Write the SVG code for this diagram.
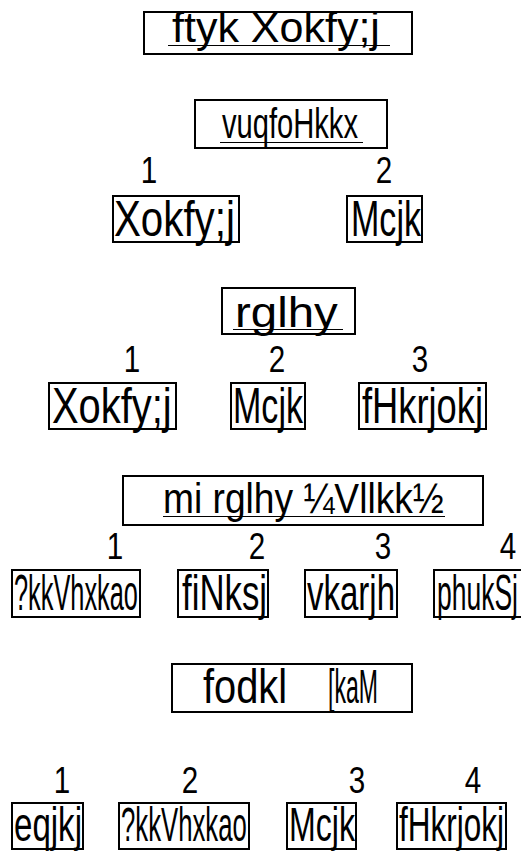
<svg xmlns="http://www.w3.org/2000/svg" width="521" height="852" viewBox="0 0 521 852">
  <style>
    text { font-family: "Liberation Sans", "DejaVu Sans", sans-serif; fill: #000; }
    .box { fill: #fff; stroke: #000; stroke-width: 2; }
    .ul { stroke: #000; stroke-width: 1.2; }
    .lbl { font-size: 50px; }
    .lbl-sm { font-size: 48px; }
    .num { font-size: 37px; text-anchor: middle; }
  </style>
  <rect width="521" height="852" fill="#fff"/>

  <!-- district heading -->
  <g id="district">
    <rect class="box" x="144" y="12" width="268" height="42"/>
    <text transform="translate(172 42) scale(1.024 1)" font-size="42">ftyk Xokfy;j</text>
    <line class="ul" x1="168" y1="45.5" x2="390" y2="45.5"/>
  </g>

  <!-- subdivision section -->
  <g id="subdivision">
    <rect class="box" x="195" y="100" width="192" height="48"/>
    <text transform="translate(222 138) scale(0.694 1)" font-size="42">vuqfoHkkx</text>
    <line class="ul" x1="220" y1="142.5" x2="363" y2="142.5"/>
  </g>
  <g id="subdivision-items">
    <text class="num" transform="translate(149 183) scale(0.8 1)">1</text>
    <text class="num" transform="translate(384 183) scale(0.8 1)">2</text>
    <g id="sd-1">
      <rect class="box" x="113" y="196" width="126" height="46"/>
      <text class="lbl" transform="translate(114 236) scale(0.806 1)">Xokfy;j</text>
    </g>
    <g id="sd-2">
      <rect class="box" x="347" y="196" width="75" height="46"/>
      <text class="lbl" transform="translate(351 236) scale(0.681 1)">Mcjk</text>
    </g>
  </g>

  <!-- tehsil section -->
  <g id="tehsil">
    <rect class="box" x="222" y="288" width="133" height="46"/>
    <text transform="translate(235 327) scale(1.13 1)" font-size="42">rglhy</text>
    <line class="ul" x1="233" y1="329.5" x2="343" y2="329.5"/>
  </g>
  <g id="tehsil-items">
    <text class="num" transform="translate(132 372) scale(0.8 1)">1</text>
    <text class="num" transform="translate(277 372) scale(0.8 1)">2</text>
    <text class="num" transform="translate(420 372) scale(0.8 1)">3</text>
    <g id="th-1">
      <rect class="box" x="49" y="383" width="127" height="46"/>
      <text class="lbl" transform="translate(52 423) scale(0.798 1)">Xokfy;j</text>
    </g>
    <g id="th-2">
      <rect class="box" x="231" y="383" width="74" height="46"/>
      <text class="lbl" transform="translate(233 423) scale(0.681 1)">Mcjk</text>
    </g>
    <g id="th-3">
      <rect class="box" x="359" y="383" width="127" height="46"/>
      <text class="lbl" transform="translate(362 423) scale(0.726 1)">fHkrjokj</text>
    </g>
  </g>

  <!-- sub-tehsil section -->
  <g id="subtehsil">
    <rect class="box" x="123" y="476" width="360" height="49"/>
    <text transform="translate(163 513) scale(0.885 1)" font-size="42">mi rglhy ¼Vllkk½</text>
    <line class="ul" x1="163" y1="516.5" x2="445" y2="516.5"/>
  </g>
  <g id="subtehsil-items">
    <text class="num" transform="translate(115 559) scale(0.8 1)">1</text>
    <text class="num" transform="translate(257 559) scale(0.8 1)">2</text>
    <text class="num" transform="translate(383 559) scale(0.8 1)">3</text>
    <text class="num" transform="translate(508 559) scale(0.8 1)">4</text>
    <g id="st-1">
      <rect class="box" x="12" y="570" width="128" height="47"/>
      <text class="lbl" transform="translate(14 610) scale(0.507 1)">?kkVhxkao</text>
    </g>
    <g id="st-2">
      <rect class="box" x="178" y="570" width="90" height="47"/>
      <text class="lbl" transform="translate(182 610) scale(0.696 1)">fiNksj</text>
    </g>
    <g id="st-3">
      <rect class="box" x="305" y="570" width="92" height="47"/>
      <text class="lbl" transform="translate(307 610) scale(0.66 1)">vkarjh</text>
    </g>
    <g id="st-4">
      <rect class="box" x="434" y="570" width="90" height="47"/>
      <text class="lbl" transform="translate(437 610) scale(0.53 1)">phukSj</text>
    </g>
  </g>

  <!-- development block section -->
  <g id="block">
    <rect class="box" x="172" y="664" width="240" height="48"/>
    <text transform="translate(203 703) scale(0.83 1)" font-size="48">fodkl</text>
    <text transform="translate(328 703) scale(0.48 1)" font-size="48">[kaM</text>
  </g>
  <g id="block-items">
    <text class="num" transform="translate(62 793) scale(0.8 1)">1</text>
    <text class="num" transform="translate(190 793) scale(0.8 1)">2</text>
    <text class="num" transform="translate(357 793) scale(0.8 1)">3</text>
    <text class="num" transform="translate(473 793) scale(0.8 1)">4</text>
    <g id="bk-1">
      <rect class="box" x="12" y="803" width="71" height="46"/>
      <text class="lbl-sm" transform="translate(14 841) scale(0.689 1)">eqjkj</text>
    </g>
    <g id="bk-2">
      <rect class="box" x="119" y="803" width="130" height="46"/>
      <text class="lbl-sm" transform="translate(121 841) scale(0.536 1)">?kkVhxkao</text>
    </g>
    <g id="bk-3">
      <rect class="box" x="287" y="803" width="69" height="46"/>
      <text class="lbl-sm" transform="translate(289 841) scale(0.669 1)">Mcjk</text>
    </g>
    <g id="bk-4">
      <rect class="box" x="397" y="803" width="109" height="46"/>
      <text class="lbl-sm" transform="translate(399 841) scale(0.656 1)">fHkrjokj</text>
    </g>
  </g>
</svg>
